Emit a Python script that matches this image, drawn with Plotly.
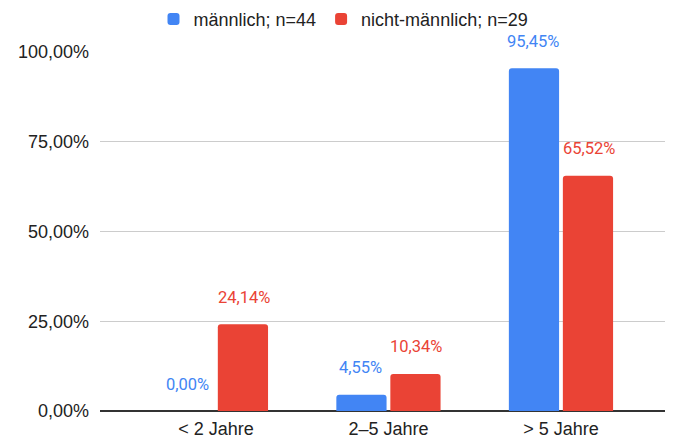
import plotly.graph_objects as go

categories = ["< 2 Jahre", "2–5 Jahre", "> 5 Jahre"]
series_names = ["männlich; n=44", "nicht-männlich; n=29"]
male = [0.00, 4.55, 95.45]
nonmale = [24.14, 10.34, 65.52]
tick_vals = [0, 25, 50, 75, 100]
tick_text = [f"{v:.2f}%".replace(".", ",") for v in tick_vals]

blue = "#4285F4"
red = "#EA4335"
label_font = "Liberation Sans, Arial, sans-serif"

fig = go.Figure()
fig.add_trace(go.Bar(x=categories, y=male, name=series_names[0], marker_color=blue,
                     marker_line_width=0, marker_cornerradius=3))
fig.add_trace(go.Bar(x=categories, y=nonmale, name=series_names[1], marker_color=red,
                     marker_line_width=0, marker_cornerradius=3))

annots = []
for vals, col, shift in [(male, blue, -28), (nonmale, red, 28)]:
    for c, v in zip(categories, vals):
        annots.append(dict(x=c, y=v, xref="x", yref="y", text=f"{v:.2f}%".replace(".", ","),
                           showarrow=False, xshift=shift, yshift=27, yanchor="middle",
                           font=dict(family="Roboto", size=16.5, color=col)))

fig.update_layout(
    width=671, height=432,
    margin=dict(l=92, r=14, t=44, b=29, autoexpand=False),
    paper_bgcolor="white", plot_bgcolor="white",
    barmode="group", bargap=0.374, bargroupgap=0.07,
    font=dict(family=label_font, size=17, color="#222"),
    legend=dict(orientation="h", xref="container", x=0.5, xanchor="center",
                yref="container", y=0.974, yanchor="middle",
                font=dict(family=label_font, size=18, color="#222"), itemwidth=30),
    annotations=annots,
    xaxis=dict(range=[-0.672, 2.603], showgrid=False, showline=False, ticks="",
               ticklabelstandoff=5,
               tickfont=dict(family=label_font, size=18, color="#222")),
    yaxis=dict(range=[0, 100], tickvals=tick_vals, ticktext=tick_text,
               gridcolor="#cccccc", zeroline=True, zerolinecolor="#333333", zerolinewidth=1.5,
               showline=False, ticks="", ticklabelstandoff=10,
               tickfont=dict(family=label_font, size=18, color="#222")),
)

fig.write_html("out.html")
